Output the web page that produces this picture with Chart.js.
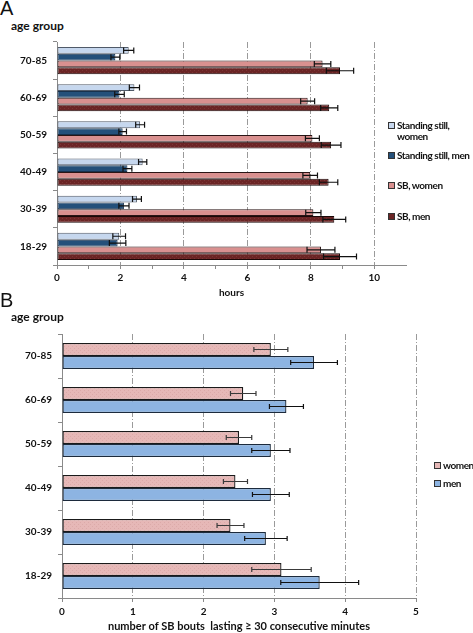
<!DOCTYPE html>
<html>
<head>
<meta charset="utf-8">
<script src="https://cdn.jsdelivr.net/npm/chart.js@4.4.1/dist/chart.umd.min.js"></script>
<style>
  body { margin: 0; width: 473px; height: 633px; position: relative; background: #fff; overflow: hidden; font-family: Lato, "Open Sans", sans-serif; color: #111; }
  canvas { position: absolute; left: 0; }
  .letter { position: absolute; left: 0; font: 20px/20px "Liberation Sans", Arial, sans-serif; }
  .ylabel { position: absolute; left: 11px; font-size: 12px; line-height: 13px; font-weight: bold; }
  .leg { position: absolute; font-size: 10px; line-height: 11px; font-weight: bold; padding-left: 9px; white-space: nowrap; letter-spacing: -0.45px; }
  .leg i { position: absolute; left: 0; top: 2px; width: 5px; height: 5px; border: 1px solid #333; }
</style>
</head>
<body>
<div class="letter" style="top:-2px">A</div>
<div class="ylabel" style="top:19px">age group</div>
<canvas id="chartA" width="473" height="300" style="top:0"></canvas>
<div class="leg" style="left:388px;top:120px"><i style="background:#c6d7ee"></i>Standing still,<br>women</div>
<div class="leg" style="left:388px;top:150px"><i style="background:#24507a"></i>Standing still, men</div>
<div class="leg" style="left:388px;top:180px"><i style="background:#d9908f"></i>SB, women</div>
<div class="leg" style="left:388px;top:211px"><i style="background:#6b2525"></i>SB, men</div>

<div class="letter" style="top:290px">B</div>
<div class="ylabel" style="top:310px">age group</div>
<canvas id="chartB" width="473" height="323" style="top:310px"></canvas>
<div class="leg" style="left:434px;top:460px"><i style="background:#e6b8b7"></i>women</div>
<div class="leg" style="left:434px;top:478px"><i style="background:#8db4e2"></i>men</div>

<script>
const ageGroups = ["70-85", "60-69", "50-59", "40-49", "30-39", "18-29"];

// panel A, hours per day
const standWomen = [2.26, 2.44, 2.62, 2.70, 2.52, 1.96];
const standWomenErr = [0.16, 0.16, 0.14, 0.13, 0.14, 0.20];
const standMen = [1.84, 1.97, 2.07, 2.22, 2.11, 1.91];
const standMenErr = [0.14, 0.15, 0.12, 0.14, 0.16, 0.26];
const sbWomen = [8.37, 7.90, 8.05, 7.98, 8.08, 8.32];
const sbWomenErr = [0.26, 0.22, 0.22, 0.23, 0.24, 0.44];
const sbMen = [8.92, 8.58, 8.64, 8.56, 8.74, 8.92];
const sbMenErr = [0.43, 0.27, 0.31, 0.29, 0.36, 0.52];

// panel B, bouts >= 30 min
const boutsWomen = [2.95, 2.56, 2.50, 2.45, 2.38, 3.10];
const boutsWomenErr = [0.24, 0.18, 0.18, 0.17, 0.19, 0.42];
const boutsMen = [3.56, 3.17, 2.95, 2.95, 2.88, 3.64];
const boutsMenErr = [0.33, 0.24, 0.27, 0.26, 0.30, 0.55];

const gridGrey = "#9a9a9a";
const axisGrey = "#8a8a8a";
const tickFont = { family: "Lato", size: 10, weight: "bold" };

function dotted(base, dot) {
  const c = document.createElement("canvas");
  c.width = 4;
  c.height = 4;
  const g = c.getContext("2d");
  g.fillStyle = base;
  g.fillRect(0, 0, 4, 4);
  g.fillStyle = dot;
  g.fillRect(0, 0, 1, 1);
  g.fillRect(2, 2, 1, 1);
  return g.createPattern(c, "repeat");
}

// error bars drawn from each dataset's "errors" array
const errorBars = {
  id: "errorBars",
  afterDatasetsDraw(chart, args, opts) {
    const ctx = chart.ctx;
    const xs = chart.scales.x;
    chart.data.datasets.forEach((ds, i) => {
      chart.getDatasetMeta(i).data.forEach((bar, j) => {
        const x1 = xs.getPixelForValue(ds.data[j] - ds.errors[j]);
        const x2 = xs.getPixelForValue(ds.data[j] + ds.errors[j]);
        const h = opts.cap / 2;
        ctx.save();
        ctx.strokeStyle = ds.errorColor || "#111";
        ctx.lineWidth = 1.2;
        ctx.beginPath();
        ctx.moveTo(x1, bar.y);
        ctx.lineTo(x2, bar.y);
        ctx.moveTo(x1, bar.y - h);
        ctx.lineTo(x1, bar.y + h);
        ctx.moveTo(x2, bar.y - h);
        ctx.lineTo(x2, bar.y + h);
        ctx.stroke();
        ctx.restore();
      });
    });
  },
};

function yAxis(width) {
  return {
    ticks: { font: tickFont, color: "#111", padding: 6 },
    grid: { drawOnChartArea: false, tickLength: 4, color: axisGrey },
    border: { color: axisGrey },
    afterFit: (s) => { s.width = width; },
  };
}

// Panel A
new Chart(document.getElementById("chartA"), {
  type: "bar",
  data: {
    labels: ageGroups,
    datasets: [
      { label: "Standing still, women", data: standWomen, errors: standWomenErr, backgroundColor: "#c6d7ee", borderColor: "#505a68" },
      { label: "Standing still, men", data: standMen, errors: standMenErr, backgroundColor: "#24507a", borderColor: "#18324d" },
      { label: "SB, women", data: sbWomen, errors: sbWomenErr, backgroundColor: "#d9908f", borderColor: "#2a1515" },
      { label: "SB, men", data: sbMen, errors: sbMenErr, backgroundColor: dotted("#6b2525", "#7c3535"), borderColor: "#1a0808" },
    ],
  },
  options: {
    indexAxis: "y",
    responsive: false,
    animation: false,
    layout: { padding: { top: 42, right: 67, left: 0, bottom: 0 } },
    datasets: { bar: { categoryPercentage: 0.73, barPercentage: 1, borderWidth: 1, borderSkipped: false } },
    plugins: { legend: { display: false }, tooltip: { enabled: false }, errorBars: { cap: 6 } },
    scales: {
      x: {
        min: 0,
        max: 11,
        ticks: { stepSize: 1, font: tickFont, color: "#111", padding: 3, callback: (v) => (v % 2 === 0 && v < 11 ? v : "") },
        grid: {
          color: (c) => (c.tick && c.tick.value > 0 && c.tick.value % 2 === 0 && c.tick.value < 11 ? gridGrey : "transparent"),
          tickColor: (c) => (c.tick && c.tick.value < 11 ? axisGrey : "transparent"),
          tickLength: 4,
        },
        border: { color: axisGrey, dash: [6, 2, 1, 2] },
        title: { display: true, text: "hours", font: tickFont, color: "#111", padding: { top: 0, bottom: 1 } },
        afterFit: (s) => { s.height = 35; },
      },
      y: yAxis(57),
    },
  },
  plugins: [errorBars],
});

// Panel B
new Chart(document.getElementById("chartB"), {
  type: "bar",
  data: {
    labels: ageGroups,
    datasets: [
      { label: "women", data: boutsWomen, errors: boutsWomenErr, errorColor: "#3a3a3a", backgroundColor: dotted("#e6b8b7", "#dcaaa9"), borderColor: "#1a1a1a" },
      { label: "men", data: boutsMen, errors: boutsMenErr, backgroundColor: "#8db4e2", borderColor: "#1c2a3c" },
    ],
  },
  options: {
    indexAxis: "y",
    responsive: false,
    animation: false,
    layout: { padding: { top: 24, right: 57, left: 0, bottom: 0 } },
    datasets: { bar: { categoryPercentage: 0.59, barPercentage: 1, borderWidth: 1.3, borderSkipped: false } },
    plugins: { legend: { display: false }, tooltip: { enabled: false }, errorBars: { cap: 5 } },
    scales: {
      x: {
        min: 0,
        max: 5,
        ticks: { stepSize: 1, font: tickFont, color: "#111", padding: 4 },
        grid: {
          color: (c) => (c.tick && c.tick.value > 0 ? gridGrey : "transparent"),
          tickColor: axisGrey,
          tickLength: 4,
        },
        border: { color: axisGrey, dash: [6, 2, 1, 2] },
        title: {
          display: true,
          text: "number of SB bouts  lasting \u2265 30 consecutive minutes",
          font: { family: "Lato", size: 11, weight: "bold" },
          color: "#111",
          padding: { top: 0, bottom: 0 },
        },
        afterFit: (s) => { s.height = 35; },
      },
      y: yAxis(62),
    },
  },
  plugins: [errorBars],
});
</script>
</body>
</html>
